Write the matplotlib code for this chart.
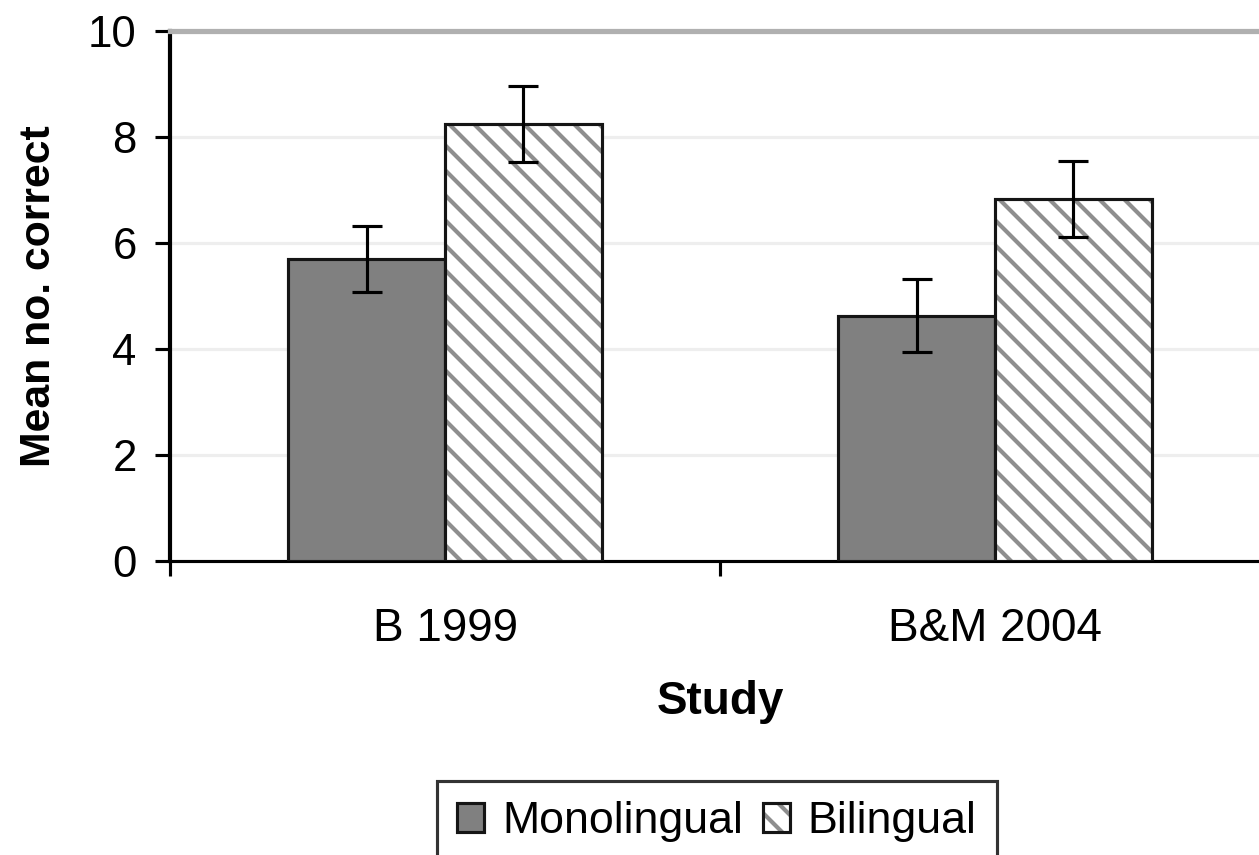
import matplotlib
matplotlib.use("Agg")
import numpy as np
import matplotlib.pyplot as plt
import matplotlib.patches as mpatches
from matplotlib.legend_handler import HandlerTuple

# mean number correct per study, with error bar half-lengths
studies = ["B 1999", "B&M 2004"]
mono_means = [5.70, 4.63]
mono_err = [0.63, 0.69]
bi_means = [8.25, 6.83]
bi_err = [0.72, 0.72]
y_ticks = [0, 2, 4, 6, 8, 10]

plt.rcParams["font.family"] = ["Liberation Sans", "DejaVu Sans"]
plt.rcParams["hatch.linewidth"] = 4.0

DPI = 75
fig = plt.figure(figsize=(1259 / DPI, 855 / DPI), dpi=DPI)
ax = fig.add_axes([170 / 1259, 294 / 855, 1100 / 1259, 530 / 855])

x = np.arange(len(studies))
w = 0.285
edge = "#151515"
hatch_grey = "#8e8e8e"

ax.bar(x - w / 2, mono_means, w, color="#808080", edgecolor=edge, lw=3, zorder=3)
# hatch and outline drawn as two layers so the stripes can be grey
ax.bar(x + w / 2, bi_means, w, color="white", edgecolor=hatch_grey, hatch="\\", lw=0, zorder=3)
ax.bar(x + w / 2, bi_means, w, fill=False, edgecolor=edge, lw=3, zorder=4)

ax.errorbar(x - w / 2, mono_means, yerr=mono_err, fmt="none", ecolor="black",
            elinewidth=3, capsize=14, capthick=3, zorder=5)
ax.errorbar(x + w / 2, bi_means, yerr=bi_err, fmt="none", ecolor="black",
            elinewidth=3, capsize=14, capthick=3, zorder=5)

ax.set_xlim(-0.5, 1.5)
ax.set_ylim(0, 10)
ax.set_yticks(y_ticks)
ax.yaxis.grid(True, color="#eeeeee", lw=3)
ax.set_axisbelow(True)

ax.spines["right"].set_visible(False)
ax.spines["top"].set_color("#b0b0b0")
ax.spines["top"].set_linewidth(5)
ax.spines["left"].set_linewidth(4)
ax.spines["bottom"].set_linewidth(3)

ax.set_xticks([-0.5, 0.5, 1.5])
ax.set_xticklabels(["", "", ""])
ax.set_xticks(x, minor=True)
ax.set_xticklabels(studies, minor=True)
ax.tick_params(axis="x", which="major", length=14, width=3)
ax.tick_params(axis="x", which="minor", length=0, pad=44, labelsize=44)
ax.tick_params(axis="y", length=14, width=3, pad=18, labelsize=42)

ax.set_xlabel("Study", fontsize=44, fontweight="bold", labelpad=28)
ax.set_ylabel("Mean no. correct", fontsize=41, fontweight="bold", labelpad=28)

mono_handle = mpatches.Patch(facecolor="#808080", edgecolor=edge, lw=3)
bi_hatch = mpatches.Patch(facecolor="white", edgecolor=hatch_grey, hatch="\\", lw=0)
bi_edge = mpatches.Patch(fill=False, edgecolor=edge, lw=3)
leg = fig.legend([mono_handle, (bi_hatch, bi_edge)], ["Monolingual", "Bilingual"],
                 handler_map={tuple: HandlerTuple(ndivide=1)},
                 loc="upper left", bbox_to_anchor=(437 / 1259, 1 - 781 / 855),
                 ncol=2, fontsize=43, frameon=True, fancybox=False, shadow=False,
                 handlelength=0.6, handleheight=0.6, handletextpad=0.4,
                 columnspacing=0.45, borderpad=0.45, borderaxespad=0)
leg.get_frame().set_edgecolor("black")
leg.get_frame().set_linewidth(3)

fig.savefig("out.png", dpi=DPI)
